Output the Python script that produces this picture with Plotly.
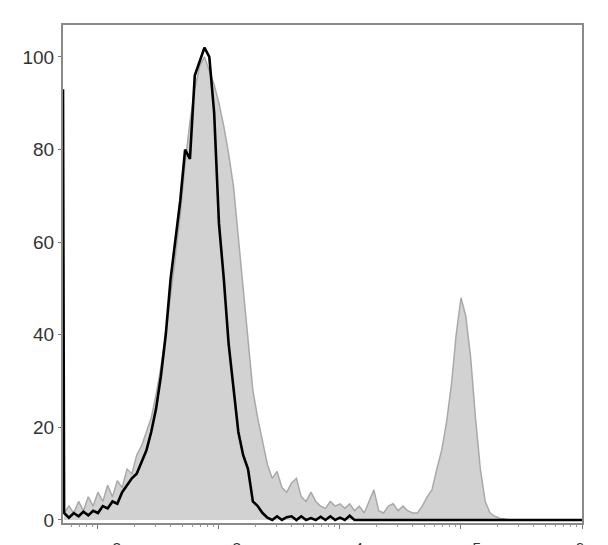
import math
import plotly.graph_objects as go

# bin centres, log10 of fluorescence intensity
log_bins = [1.72, 1.76, 1.80, 1.84, 1.88, 1.92, 1.96, 2.00, 2.04, 2.08,
            2.12, 2.16, 2.20, 2.24, 2.28, 2.32, 2.36, 2.40, 2.44, 2.48,
            2.52, 2.56, 2.60, 2.64, 2.68, 2.72, 2.76, 2.80, 2.84, 2.88,
            2.92, 2.96, 3.00, 3.04, 3.08, 3.12, 3.16, 3.20, 3.24, 3.28,
            3.32, 3.36, 3.40, 3.44, 3.48, 3.52, 3.56, 3.60, 3.64, 3.68,
            3.72, 3.76, 3.80, 3.84, 3.88, 3.92, 3.96, 4.00, 4.04, 4.08,
            4.12, 4.16, 4.20, 4.24, 4.28, 4.32, 4.36, 4.40, 4.44, 4.48,
            4.52, 4.56, 4.60, 4.64, 4.68, 4.72, 4.76, 4.80, 4.84, 4.88,
            4.92, 4.96, 5.00, 5.04, 5.08, 5.12, 5.16, 5.20, 5.24, 5.28,
            5.32, 5.36, 5.40, 5.50, 5.60, 5.70, 5.80, 5.90, 6.00]

# stained sample (grey filled histogram), % of max
stained = [1.5, 3, 1.5, 4, 2, 5, 3, 6, 4, 7.5,
           5, 8.5, 7, 11, 10, 14, 16, 19, 22, 27,
           33, 40, 48, 57, 66, 77, 86, 93, 98, 100,
           97, 94, 90, 85, 79, 72, 61, 50, 38, 28,
           22, 17, 12, 9, 10.5, 7, 6, 8, 9, 5,
           4, 6, 4, 3, 2.5, 4, 3, 3.5, 2.5, 3.5,
           2, 3, 1.5, 4, 6.5, 2, 1.5, 3, 3.5, 2,
           3, 2, 1.5, 1.5, 3, 5, 6.5, 11, 15, 21,
           29, 40, 48, 44, 35, 22, 11, 4, 1.5, 0.8,
           0.4, 0.2, 0, 0, 0, 0, 0, 0, 0]

# unstained control (black line), % of max
control = [1.5, 0.5, 1.5, 0.8, 1.8, 1, 2, 1.5, 3, 2.5,
           4, 3.5, 6, 7.5, 9, 10, 12.5, 15, 19, 24,
           31, 40, 52, 60, 69, 80, 78, 96, 99, 102,
           100, 88, 64, 52, 38, 28, 19, 14, 11, 4,
           3, 1.5, 0.5, 0, 0.8, 0, 0.6, 0.8, 0, 0.8,
           0, 0.4, 0, 0.7, 0, 0.8, 0, 0.5, 0, 0.9,
           0, 0, 0, 0, 0, 0, 0, 0, 0, 0,
           0, 0, 0, 0, 0, 0, 0, 0, 0, 0,
           0, 0, 0, 0, 0, 0, 0, 0, 0, 0,
           0, 0, 0, 0, 0, 0, 0, 0, 0]

# first (off-scale) bin of the control, piled at the axis minimum
control_first_log = 1.711
control_first_val = 93

x_min_log, x_max_log = 1.711, 6.0
y_ticks = [0, 20, 40, 60, 80, 100]
x_decades = [2, 3, 4, 5, 6]

xs = [10 ** v for v in log_bins]
xc = [10 ** control_first_log] + xs
yc = [control_first_val] + control

fig = go.Figure()
fig.add_trace(go.Scatter(
    x=xs, y=stained, mode="lines", fill="tozeroy",
    fillcolor="#d2d2d2", line=dict(color="#a9a9a9", width=1.5),
    hoverinfo="skip", showlegend=False))
fig.add_trace(go.Scatter(
    x=xc, y=yc, mode="lines",
    line=dict(color="#000000", width=2.6),
    hoverinfo="skip", showlegend=False))

minor_vals = [m * 10 ** d for d in range(1, 6) for m in range(2, 10)
              if x_min_log < d + math.log10(m) < x_max_log]

fig.update_xaxes(
    type="log", range=[x_min_log, x_max_log],
    showgrid=False, zeroline=False,
    showline=True, linecolor="#8a8a8a", linewidth=2, mirror=True,
    ticks="outside", ticklen=4, tickcolor="#777", tickwidth=1,
    tickvals=[10 ** d for d in x_decades], showticklabels=False,
    minor=dict(ticks="outside", ticklen=2, tickcolor="#999", tickvals=minor_vals),
)
fig.update_yaxes(
    range=[-0.65, 106.9],
    showgrid=False, zeroline=False,
    showline=True, linecolor="#8a8a8a", linewidth=2, mirror=True,
    ticks="outside", ticklen=3, tickcolor="#777", tickwidth=1,
    tickvals=y_ticks, ticktext=[str(v) for v in y_ticks],
    tickfont=dict(family="Liberation Sans, Arial, sans-serif", size=19, color="#333"),
)

shifts = [7, 6, 7, 4, -15]
for d, s in zip(x_decades, shifts):
    fig.add_annotation(
        x=d, xref="x", y=0, yref="paper", yanchor="top", xanchor="center",
        yshift=-14, xshift=s, showarrow=False,
        text=f"10<sup>{d}</sup>",
        font=dict(family="Liberation Sans, Arial, sans-serif", size=22, color="#333"))

fig.update_layout(
    width=600, height=537,
    margin=dict(l=55, r=26, t=17, b=22),
    paper_bgcolor="white", plot_bgcolor="white",
)

fig.write_html("out.html")
